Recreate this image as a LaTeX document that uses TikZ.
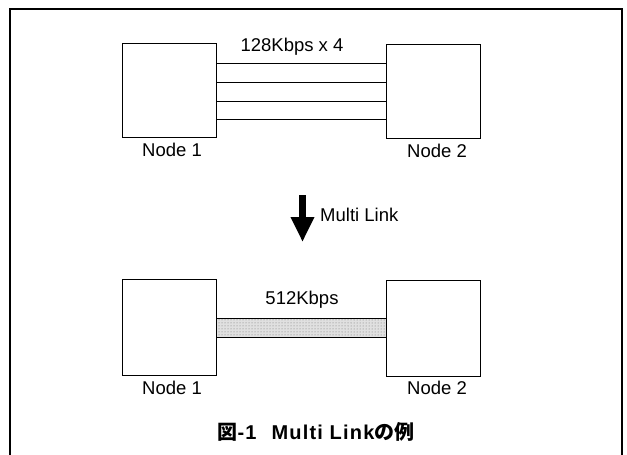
\documentclass[tikz,border=0pt]{standalone}
\usepackage{fontspec}
\setmainfont{Liberation Sans}
\newfontfamily\jpfont{Noto Sans CJK JP}
\newfontfamily\capfont[LetterSpace=6]{Liberation Sans}
\usetikzlibrary{arrows.meta,patterns}
\begin{document}
\begin{tikzpicture}[x=1pt,y=-1pt,
  nodebox/.style={draw,line width=1pt,minimum width=94pt,minimum height=94pt,inner sep=0pt,anchor=north west},
  lbl/.style={font=\fontsize{18.5}{18.5}\selectfont,inner sep=0pt},
  link/.style={line width=1pt}]
\useasboundingbox (0,0) rectangle (627,455);
% frame
\draw[line width=1.3pt] (10,455) -- (10,9) -- (622,9) -- (622,455);
% top
\node[nodebox] (a1) at (122,43) {};
\node[nodebox] (a2) at (386,44) {};
\foreach \yy in {63,82,101,119}{
  \draw[link] (a1.north east |- 0,\yy) -- (a2.north west |- 0,\yy);
}
\node[lbl] (t1) at (292,47) {128Kbps x 4};
\node[lbl] (n1) at (172,150) {Node 1};
\node[lbl] (n2) at (437,151) {Node 2};
% arrow
\coordinate (ar1) at (302.5,195);
\coordinate (ar2) at (302.5,242);
\draw[line width=7pt,-{Triangle[width=22pt,length=25pt]}] (ar1) -- (ar2);
\node[lbl,anchor=west] (ml) at (320,215) {Multi Link};
% bottom
\node[nodebox,minimum height=96pt] (b1) at (122,279) {};
\node[nodebox,minimum height=96pt] (b2) at (386,280) {};
\coordinate (bandA) at (216,318);
\coordinate (bandB) at (386,337);
\fill[black!12] (bandA) rectangle (bandB);
\fill[pattern=dots,pattern color=black!55] (bandA) rectangle (bandB);
\draw[line width=1pt] (bandA) rectangle (bandB);
\node[lbl] (t2) at (302,300) {512Kbps};
\node[lbl] (n3) at (172,388) {Node 1};
\node[lbl] (n4) at (437,388) {Node 2};
% caption
\node[lbl,font=\fontsize{20}{20}\selectfont\bfseries] (cap) at (316,432) {{\jpfont 図}{\capfont\bfseries -1}\hspace{15pt}{\capfont\bfseries Multi Link}{\jpfont の例}};
\end{tikzpicture}
\end{document}
